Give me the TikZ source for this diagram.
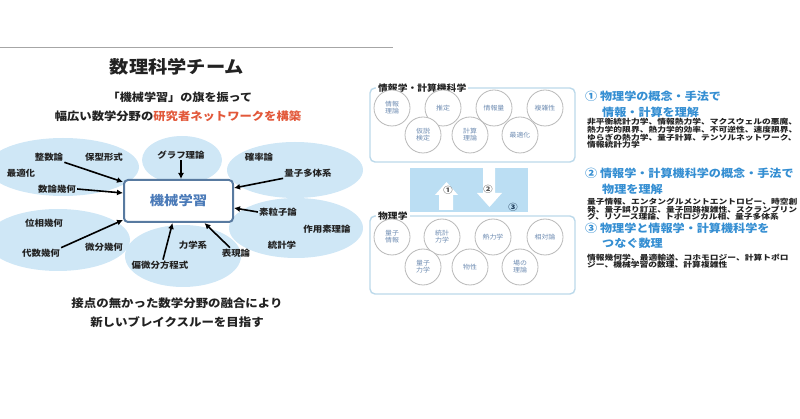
\documentclass[tikz,border=0pt]{standalone}
\usepackage{fontspec}
\setmainfont{Noto Sans CJK JP}[FakeStretch=1.1]
\newfontfamily\bodyfont{Noto Sans CJK JP}[FakeStretch=1.2]
\usetikzlibrary{positioning}
\usetikzlibrary{arrows.meta}
\usetikzlibrary{shapes.geometric}
\definecolor{blob}{RGB}{207,231,246}
\definecolor{ink}{RGB}{34,34,34}
\definecolor{boxline}{RGB}{88,122,160}
\definecolor{mlblue}{RGB}{74,122,184}
\definecolor{accent}{RGB}{226,88,58}
\definecolor{grpline}{RGB}{188,217,234}
\definecolor{ringgray}{RGB}{185,185,185}
\definecolor{ringtext}{RGB}{110,140,178}
\definecolor{bridge}{RGB}{187,222,243}
\definecolor{headblue}{RGB}{52,142,210}
\definecolor{navy}{RGB}{30,60,90}
\tikzset{x=1pt, y=-1pt,
field/.style={ % Sets the properties for each blue field
ellipse,
fill=blob,
inner sep=0pt},
topic/.style={ % Sets the properties for each field label
font=\bfseries\fontsize{8.6}{8.6}\selectfont,
text=ink,
inner sep=1pt},
feed/.style={ % Sets the properties for each arrow into the core box
-{Latex[length=6pt,width=6pt]},
line width=1.6pt},
group/.style={draw=grpline, line width=1.4pt, rounded corners=5pt},
grouplabel/.style={fill=white, anchor=west, inner sep=2pt, text=ink,
font=\bfseries\fontsize{8.9}{8.9}\selectfont},
subject/.style={ % Sets the properties for each circle
circle,
draw=ringgray,
line width=0.8pt,
fill=white,
minimum size=36pt,
inner sep=0pt,
align=center,
text=ringtext,
font=\fontsize{6.3}{7}\selectfont},
heading/.style={anchor=west, inner sep=0pt, text=headblue,
font=\bfseries\fontsize{11}{11}\selectfont},
body/.style={anchor=west, align=left, inner sep=0pt, text=ink,
font=\bodyfont\bfseries\fontsize{7.3}{7.6}\selectfont}}

\begin{document}
\begin{tikzpicture}
	\useasboundingbox (0,0) rectangle (800,419);
	\draw[gray!70, line width=0.8pt] (0,47) -- (393,47);
	% titles
	\node[text=ink, font=\bfseries\fontsize{17.5}{17.5}\selectfont] (title) at (177,67) {数理科学チーム};
	\node[text=ink, font=\bfseries\fontsize{11}{11}\selectfont] (flag) at (180,97) {「機械学習」の旗を振って};
	\node[text=ink, font=\bfseries\fontsize{11.2}{11.2}\selectfont] (net) at (178,116) {幅広い数学分野の\textcolor{accent}{研究者ネットワークを構築}};
	% fields
	\node[field, minimum width=152pt, minimum height=58pt] (fTL) at (63,167) {};
	\node[field, minimum width=80pt, minimum height=48pt] (fTM) at (182,160) {};
	\node[field, minimum width=136pt, minimum height=56pt] (fTR) at (295,170) {};
	\node[field, minimum width=144pt, minimum height=62pt] (fBL) at (58,240) {};
	\node[field, minimum width=116pt, minimum height=62pt] (fBM) at (183,256) {};
	\node[field, minimum width=134pt, minimum height=60pt] (fBR) at (296,228) {};
	% core
	\node[draw=boxline, line width=2pt, rounded corners=4pt, fill=white,
		minimum width=109pt, minimum height=42pt, text=mlblue,
		font=\bfseries\fontsize{13}{13}\selectfont] (ml) at (178.5,201) {機械学習};
	% labels
	\node[topic] (seisu) at (49,157) {整数論};
	\node[topic] (hokei) at (104,157) {保型形式};
	\node[topic] (saiteki) at (21,173) {最適化};
	\node[topic] (surongeo) at (57,189) {数論幾何};
	\node[topic] (graph) at (181,155) {グラフ理論};
	\node[topic] (kakuritsu) at (259,157) {確率論};
	\node[topic] (tatai) at (308,173) {量子多体系};
	\node[topic] (soryushi) at (278,212) {素粒子論};
	\node[topic] (sayoso) at (327,229) {作用素理論};
	\node[topic] (tokei) at (282,245) {統計学};
	\node[topic] (hyogen) at (236,253) {表現論};
	\node[topic] (rikigaku) at (193,245) {力学系};
	\node[topic] (henbibun) at (160,265) {偏微分方程式};
	\node[topic] (bibun) at (104,247) {微分幾何};
	\node[topic] (daisu) at (41,253) {代数幾何};
	\node[topic] (iso) at (44,223) {位相幾何};
	% arrows
	\draw[feed] (seisu.south east) -- ([yshift=-3pt]ml.north west);
	\draw[feed] (surongeo.east) -- ([yshift=8pt]ml.west);
	\draw[feed] (daisu.north east) -- ([yshift=3pt]ml.south west);
	\draw[feed] ([xshift=3pt]henbibun.north) -- ([xshift=-6pt]ml.south);
	\draw[feed] ([xshift=-6pt]hyogen.north) -- ([xshift=26pt]ml.south);
	\draw[feed] (soryushi.west) -- ([yshift=-7pt]ml.east);
	\draw[feed] (tatai.south west) -- ([yshift=13pt]ml.east);
	\draw[feed] (graph.south) -- (graph.south |- ml.north);
	% closing words
	\node[text=ink, font=\bfseries\fontsize{11.3}{11.3}\selectfont] (fuse) at (177,303) {接点の無かった数学分野の融合により};
	\node[text=ink, font=\bfseries\fontsize{11.3}{11.3}\selectfont] (aim) at (177,322) {新しいブレイクスルーを目指す};
	% information science group
	\draw[group] (370,88) rectangle (575,162);
	\node[grouplabel] (info) at (376,88) {情報学・計算機科学};
	\node[subject] (c1) at (392,108) {情報\\理論};
	\node[subject] (c2) at (443,108) {推定};
	\node[subject] (c3) at (494,108) {情報量};
	\node[subject] (c4) at (545,108) {複雑性};
	\node[subject] (c5) at (423,135) {仮説\\検定};
	\node[subject] (c6) at (470,135) {計算\\理論};
	\node[subject] (c7) at (520,135) {最適化};
	% bridge
	\fill[bridge] (410,168) rectangle (528,212);
	\fill[white] (439,210) -- (439,195) -- (435,195) -- (446.5,182) -- (458,195) -- (453,195) -- (453,210) -- cycle;
	\fill[white] (483,168) -- (483,193) -- (477,193) -- (489.5,207) -- (502,193) -- (495,193) -- (495,168) -- cycle;
	\node[text=ink!80, font=\bfseries\fontsize{8.5}{8.5}\selectfont] (n1) at (448,190) {①};
	\node[text=ink!80, font=\bfseries\fontsize{8.5}{8.5}\selectfont] (n2) at (488,189) {②};
	\node[text=navy, font=\bfseries\fontsize{8.5}{8.5}\selectfont] (n3) at (513,207) {③};
	% physics group
	\draw[group] (370,216) rectangle (575,294);
	\node[grouplabel] (phys) at (376,216) {物理学};
	\node[subject] (p1) at (392,237) {量子\\情報};
	\node[subject] (p2) at (442,237) {統計\\力学};
	\node[subject] (p3) at (493,237) {熱力学};
	\node[subject] (p4) at (545,237) {相対論};
	\node[subject] (p5) at (423,267) {量子\\力学};
	\node[subject] (p6) at (470,267) {物性};
	\node[subject] (p7) at (520,267) {場の\\理論};
	% notes
	\node[heading] (h1a) at (585,96) {① 物理学の概念・手法で};
	\node[heading] (h1b) at (602,112) {情報・計算を理解};
	\node[body] (b1) at (587,133.5) {非平衡統計力学、情報熱力学、マクスウェルの悪魔、\\熱力学的限界、熱力学的効率、不可逆性、速度限界、\\ゆらぎの熱力学、量子計算、テンソルネットワーク、\\情報統計力学};
	\node[heading] (h2a) at (585,173) {② 情報学・計算機科学の概念・手法で};
	\node[heading] (h2b) at (602,189) {物理を理解};
	\node[body] (b2) at (587,209.5) {量子情報、エンタングルメントエントロピー、時空創\\発、量子誤り訂正、量子回路複雑性、スクランブリン\\グ、リソース理論、トポロジカル相、量子多体系};
	\node[heading] (h3a) at (585,228) {③ 物理学と情報学・計算機科学を};
	\node[heading] (h3b) at (602,243) {つなぐ数理};
	\node[body] (b3) at (587,261) {情報幾何学、最適輸送、コホモロジー、計算トポロ\\ジー、機械学習の数理、計算複雑性};
\end{tikzpicture}
\end{document}
